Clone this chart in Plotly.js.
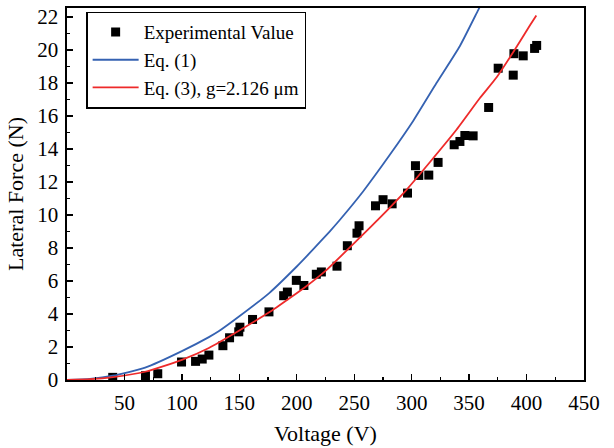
<!DOCTYPE html>
<html>
<head>
<meta charset="utf-8">
<script src="https://cdn.plot.ly/plotly-3.0.1.min.js"></script>
<style>html,body{margin:0;padding:0;background:#fff;}#chart{width:614px;height:448px;}</style>
</head>
<body>
<div id="chart"></div>
<script>
// Experimental data (Voltage V, Lateral Force N)
const expVoltage = [39.8, 68.3, 79, 99.7, 111.9, 117.7, 123.5, 135.7, 141.5, 149.5, 150.5, 161.5, 175.8, 188.6, 191.8, 199.6, 206.2, 217, 221.4, 235, 244, 252.4, 254.2, 268.5, 275.1, 283, 296.4, 303.3, 306.2, 314.9, 323, 337, 342, 346.3, 353.5, 367, 375.3, 388.4, 389, 397.1, 407, 408.8];
const expForce   = [0.16, 0.26, 0.38, 1.09, 1.13, 1.27, 1.51, 2.08, 2.56, 2.92, 3.2, 3.67, 4.13, 5.11, 5.33, 6.04, 5.73, 6.41, 6.55, 6.9, 8.14, 8.9, 9.35, 10.56, 10.93, 10.68, 11.33, 12.99, 12.4, 12.42, 13.19, 14.26, 14.46, 14.82, 14.8, 16.52, 18.9, 18.48, 19.78, 19.65, 20.1, 20.28];

// Eq. (1) curve
const eq1Voltage = [0, 20, 40, 68, 100, 123.5, 132, 150, 176, 200, 214, 228.6, 237.4, 257.7, 281, 301, 321.6, 342, 358, 365];
const eq1Force   = [0, 0.07, 0.26, 0.75, 1.75, 2.6, 2.95, 3.86, 5.27, 6.88, 7.9, 9.0, 9.7, 11.43, 13.65, 15.67, 18.0, 20.25, 22.44, 23.4];

// Eq. (3) curve
const eq3Voltage = [0, 20, 40, 68, 100, 123.5, 150, 176, 194, 208, 226, 250, 270.7, 295.5, 315.8, 339, 359.4, 374, 390, 403, 408.5];
const eq3Force   = [0, 0.05, 0.18, 0.5, 1.22, 1.94, 3.0, 4.1, 4.97, 5.67, 6.68, 8.3, 9.72, 11.53, 13.2, 15.17, 17.09, 18.35, 20.05, 21.5, 22.1];

const xTicks = [50, 100, 150, 200, 250, 300, 350, 400, 450];
const yTicks = [0, 2, 4, 6, 8, 10, 12, 14, 16, 18, 20, 22];

const fontFam = 'Liberation Serif, Times New Roman, serif';

const traces = [
  {x: expVoltage, y: expForce, mode: 'markers', type: 'scatter', name: 'Experimental Value',
   marker: {symbol: 'square', size: 9, color: '#000000'}},
  {x: eq1Voltage, y: eq1Force, mode: 'lines', type: 'scatter', name: 'Eq. (1)',
   line: {color: '#3562B2', width: 1.8, shape: 'spline', smoothing: 0.5}},
  {x: eq3Voltage, y: eq3Force, mode: 'lines', type: 'scatter', name: 'Eq. (3), g=2.126 μm',
   line: {color: '#EE2A2A', width: 1.8, shape: 'spline', smoothing: 0.5}}
];

const axisCommon = {
  showline: true, linecolor: '#000', linewidth: 1.6, mirror: true,
  ticks: 'inside', ticklen: 6, tickwidth: 1.4, tickcolor: '#000',
  showgrid: false, zeroline: false,
  tickfont: {family: fontFam, size: 21, color: '#000'}
};

const layout = {
  width: 614, height: 448,
  margin: {l: 67, r: 30, t: 8, b: 68},
  paper_bgcolor: '#fff', plot_bgcolor: '#fff',
  font: {family: fontFam, color: '#000'},
  showlegend: true,
  legend: {
    x: 0.037, y: 0.99, xanchor: 'left', yanchor: 'top',
    bordercolor: '#000', borderwidth: 1.5, bgcolor: '#fff',
    font: {family: fontFam, size: 19, color: '#000'},
    itemwidth: 46, traceorder: 'normal'
  },
  xaxis: Object.assign({}, axisCommon, {
    range: [0, 450], tickvals: xTicks, ticktext: xTicks.map(String),
    minor: {ticks: 'inside', ticklen: 3, tickwidth: 1.2, tickcolor: '#000', dtick: 25, showgrid: false},
    title: {text: 'Voltage (V)', font: {family: fontFam, size: 22, color: '#000'}, standoff: 12},
    ticklabelstandoff: 3
  }),
  yaxis: Object.assign({}, axisCommon, {
    range: [0, 22.55], tickvals: yTicks, ticktext: yTicks.map(String),
    minor: {ticks: 'inside', ticklen: 3, tickwidth: 1.2, tickcolor: '#000', dtick: 1, showgrid: false},
    title: {text: 'Lateral Force (N)', font: {family: fontFam, size: 22, color: '#000'}, standoff: 7},
    ticklabelstandoff: 3
  })
};

Plotly.newPlot('chart', traces, layout, {displayModeBar: false, staticPlot: true});
</script>
</body>
</html>
